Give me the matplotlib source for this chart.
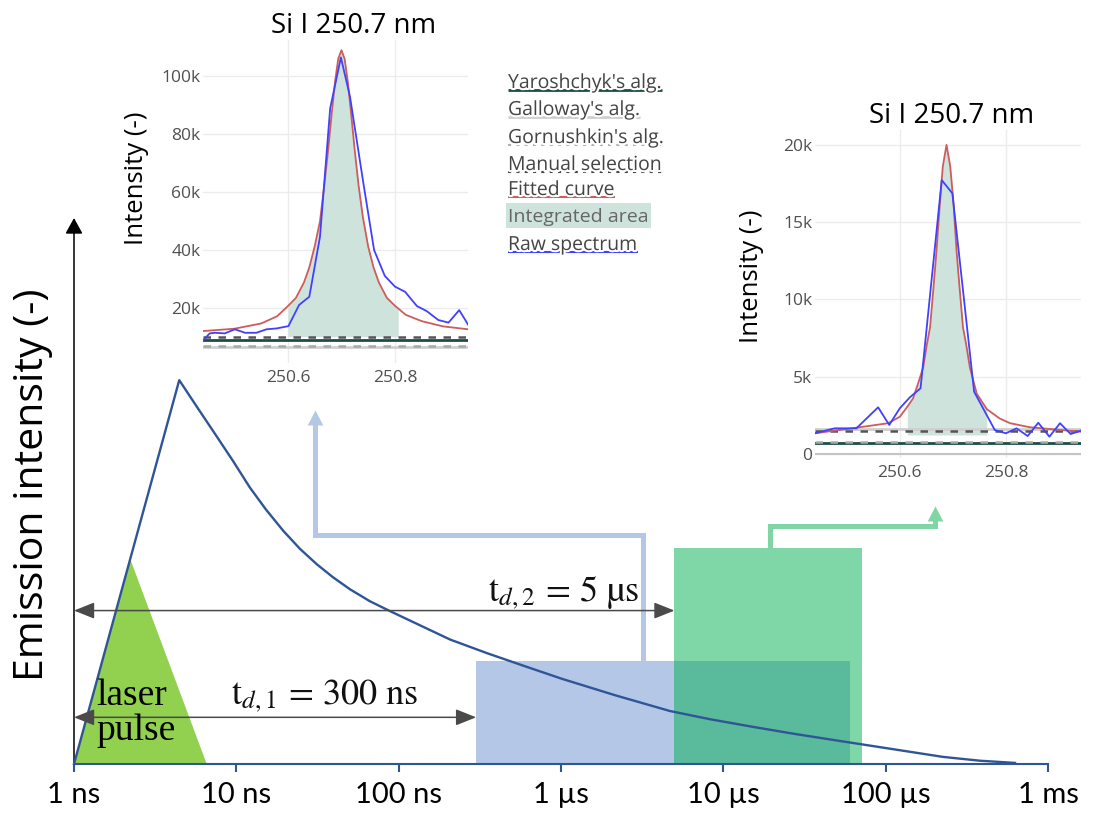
import matplotlib
matplotlib.use("Agg")
import matplotlib.pyplot as plt
from matplotlib.lines import Line2D
from matplotlib.patches import Rectangle
from matplotlib.ticker import FixedLocator, FuncFormatter, NullLocator
import matplotlib.patheffects as pe

plt.rcParams['font.family'] = ['Open Sans', 'DejaVu Sans']
plt.rcParams['mathtext.fontset'] = 'stix'

W, H = 1094, 819

# emission decay of the plasma (time in s, normalised intensity)
decay_t = [1e-9, 4.45e-9, 5.81e-9, 7.57e-9, 9.54e-9, 1.214e-8, 1.523e-8, 1.947e-8,
           2.467e-8, 3.126e-8, 3.940e-8, 5.014e-8, 6.659e-8, 8.846e-8, 1.354e-7,
           2.072e-7, 3.501e-7, 6.002e-7, 1.014e-6, 2.151e-6, 4.694e-6, 8.275e-6,
           1.523e-5, 2.765e-5, 5.016e-5, 1.064e-4, 2.256e-4, 3.813e-4, 6.264e-4]
decay_i = [0, 0.703, 0.651, 0.600, 0.555, 0.506, 0.466, 0.427,
           0.394, 0.366, 0.342, 0.320, 0.298, 0.280, 0.254,
           0.228, 0.203, 0.179, 0.156, 0.126, 0.097, 0.082,
           0.068, 0.055, 0.043, 0.028, 0.013, 0.006, 0.002]

# laser pulse
pulse_t = [1e-9, 2.21e-9, 6.57e-9]
pulse_i = [0, 0.377, 0]

# detector gates
delays = [300e-9, 5e-6]
gate_ends = [6.0e-5, 7.15e-5]
gate_heights = [0.189, 0.395]
delay_labels = [r'$\mathrm{t}_{d,1}\,=\,300\ \mathrm{ns}$',
                r'$\mathrm{t}_{d,2}\,=\,5\ \mathrm{µs}$']

time_ticks = [1e-9, 1e-8, 1e-7, 1e-6, 1e-5, 1e-4, 1e-3]
time_labels = ['1 ns', '10 ns', '100 ns', '1 µs', '10 µs', '100 µs', '1 ms']

# Si I 250.7 nm, gate 1
raw1_x = [250.442, 250.454, 250.464, 250.482, 250.501, 250.520, 250.541, 250.560, 250.579,
          250.601, 250.621, 250.640, 250.660, 250.679, 250.699, 250.716, 250.741, 250.761,
          250.781, 250.800, 250.819, 250.841, 250.859, 250.881, 250.900, 250.920, 250.937]
raw1_y = [9100, 11400, 11600, 11400, 12800, 11600, 11600, 12800, 13100,
          13900, 21200, 24000, 44700, 88900, 106400, 92900, 63100, 40100,
          31200, 27500, 25700, 20800, 19100, 16000, 15100, 19400, 14300]
fit1_x = [250.442, 250.500, 250.550, 250.580, 250.600, 250.615, 250.630, 250.640, 250.650,
          250.660, 250.668, 250.675, 250.682, 250.688, 250.694, 250.700, 250.706, 250.712,
          250.718, 250.725, 250.732, 250.740, 250.750, 250.760, 250.770, 250.785, 250.800,
          250.806, 250.820, 250.850, 250.890, 250.937]
fit1_y = [12200, 13000, 14800, 17300, 20800, 23600, 28900, 34100, 41300,
          50000, 62400, 74200, 87300, 97900, 105900, 108900, 105900, 97900,
          87300, 74200, 62400, 51500, 41300, 34100, 28900, 23600, 20900,
          20000, 17800, 15600, 13800, 12800]
area1 = (250.600, 250.806)
floor1 = 10260

# Si I 250.7 nm, gate 2
raw2_x = [250.440, 250.477, 250.518, 250.559, 250.580, 250.600, 250.619, 250.639, 250.679,
          250.699, 250.740, 250.779, 250.800, 250.820, 250.841, 250.861, 250.882, 250.902,
          250.922, 250.941]
raw2_y = [1340, 1660, 1660, 3020, 1880, 2960, 3670, 4250, 17720,
          16860, 4030, 1550, 1340, 1660, 1160, 2020, 1120, 1990,
          1290, 1510]
fit2_x = [250.440, 250.518, 250.578, 250.600, 250.614, 250.625, 250.636, 250.644, 250.651,
          250.657, 250.663, 250.669, 250.675, 250.681, 250.688, 250.695, 250.701, 250.707,
          250.713, 250.719, 250.725, 250.732, 250.745, 250.764, 250.788, 250.808, 250.845,
          250.941]
fit2_y = [1340, 1700, 1990, 2410, 3050, 3600, 4730, 5600, 7090,
          8200, 10600, 13100, 16000, 18600, 20000, 18600, 16300, 13100,
          10600, 8200, 7100, 5600, 3900, 2900, 2300, 1990, 1730,
          1440]
area2 = (250.614, 250.764)
floor2 = 1230

# background levels from the baseline algorithms
base_names = ["Yaroshchyk's alg.", "Galloway's alg.", "Gornushkin's alg.", "Manual selection"]
base1 = [9120, 6600, 7160, 10050]
base2 = [710, 1600, 800, 1510]

legend_names = base_names + ["Fitted curve", "Integrated area", "Raw spectrum"]

teal = '#1d4d46'
light_grey = '#cfcfcf'
dash_grey = '#a8a8a8'
dark_grey = '#555555'
red = '#cd5c5c'
blue = '#4040ff'
area_col = '#cfe3dd'
base_styles = [dict(color=teal, lw=2.0, ls='-'),
               dict(color=light_grey, lw=2.0, ls='-'),
               dict(color=dash_grey, lw=1.8, ls=(0, (3, 3))),
               dict(color=dark_grey, lw=1.8, ls=(0, (3, 3)))]

fig = plt.figure(figsize=(W / 100, H / 100), dpi=100)

# ---- main timing diagram ----
ax = fig.add_axes([74 / W, 1 - 764 / H, 974 / W, 546 / H])
ax.set_xscale('log')
ax.set_xlim(1e-9, 1e-3)
ax.set_ylim(0, 1)
for s in ['top', 'right', 'left']:
    ax.spines[s].set_visible(False)
ax.spines['bottom'].set_color('#2f5597')
ax.spines['bottom'].set_linewidth(1.5)
ax.xaxis.set_major_locator(FixedLocator(time_ticks))
ax.xaxis.set_minor_locator(NullLocator())
ax.set_xticklabels(time_labels, family=['Lato', 'DejaVu Sans'], fontsize=21)
ax.tick_params(axis='x', length=6, width=1.5, color='#2f5597', pad=7)
ax.set_yticks([])
ax.patch.set_alpha(0)

ax.annotate('', xy=(1e-9, 1.0), xytext=(1e-9, 0), annotation_clip=False,
            arrowprops=dict(arrowstyle='-|>,head_length=0.4,head_width=0.22',
                            color='black', lw=1.1, mutation_scale=24,
                            shrinkA=0, shrinkB=0))
fig.text(33 / W, 1 - 485 / H, 'Emission intensity (-)', rotation=90,
         ha='center', va='center', fontsize=29.5)

gate_colors = ['#b4c7e7', '#00b050']
gate_alpha = [1.0, 0.5]
for d, e, h, c, a in zip(delays, gate_ends, gate_heights, gate_colors, gate_alpha):
    ax.fill_between([d, e], 0, h, color=c, alpha=a, lw=0, zorder=1)

ax.fill(pulse_t, pulse_i, color='#92d050', lw=0, zorder=2)
ax.plot(decay_t, decay_i, color='#2f5597', lw=1.7, zorder=5, clip_on=False,
        solid_joinstyle='round')

# delay arrows and labels
arrow_y = [0.0855, 0.281]
label_pos = [(1.32e-7, 0.111), (3.03e-6, 0.2985)]
for d, y, lab, (lx, ly) in zip(delays, arrow_y, delay_labels, label_pos):
    ax.annotate('', xy=(d, y), xytext=(1e-9, y), annotation_clip=False,
                arrowprops=dict(arrowstyle='<|-|>,head_length=0.5,head_width=0.2',
                                color='#4a4a4a', lw=1.1, mutation_scale=25,
                                shrinkA=0, shrinkB=0), zorder=6)
    ax.text(lx, ly, lab, ha='right', va='baseline', fontsize=26, color='#111111', zorder=7)

ax.text(1.38e-9, 0.108, 'laser', family=['Liberation Serif', 'DejaVu Serif'],
        fontsize=27, va='baseline', ha='left', zorder=7)
ax.text(1.38e-9, 0.044, 'pulse', family=['Liberation Serif', 'DejaVu Serif'],
        fontsize=27, va='baseline', ha='left', zorder=7)

# connectors from the gates to the spectra
head = [(-0.52, -1), (0.52, -1), (0, 0)]
conn_blue_x = [3.2e-6, 3.2e-6, 3.05e-8, 3.05e-8]
conn_blue_y = [gate_heights[0], 0.419, 0.419, 0.625]
conn_green_x = [1.94e-5, 1.94e-5, 2.01e-4, 2.01e-4]
conn_green_y = [gate_heights[1], 0.435, 0.435, 0.448]
for cx, cy, tip, col in [(conn_blue_x, conn_blue_y, 0.648, '#b4c7e7'),
                         (conn_green_x, conn_green_y, 0.4725, '#7fd6a4')]:
    ax.plot(cx, cy, color=col, lw=3.6, solid_joinstyle='miter',
            solid_capstyle='butt', zorder=3, clip_on=False)
    ax.plot([cx[-1]], [tip], marker=head, ms=21.6, color=col, mew=0,
            zorder=3, clip_on=False)


# ---- spectra insets ----
def kfmt(v, p):
    return '0' if v == 0 else f'{v / 1000:.0f}k'


def draw_spectrum(rect, xlim, ylim, yticks, raw_x, raw_y, fit_x, fit_y, area, floor, bases):
    a = fig.add_axes(rect)
    a.set_xlim(*xlim)
    a.set_ylim(*ylim)
    for s in a.spines.values():
        s.set_visible(False)
    a.patch.set_alpha(0)
    a.set_xticks([250.6, 250.8])
    a.set_xticklabels(['250.6', '250.8'])
    a.set_yticks(yticks)
    a.yaxis.set_major_formatter(FuncFormatter(kfmt))
    a.grid(True, color='#ececec', lw=1)
    a.set_axisbelow(True)
    a.tick_params(length=0, labelsize=12.5, labelcolor='#505050')
    a.tick_params(axis='y', pad=2)
    a.tick_params(axis='x', pad=5)
    if ylim[0] < 0:
        a.axhline(0, color='#c4c4c4', lw=1.5, zorder=1)
    # integrated area under the fitted curve
    fx = [x for x in fit_x if area[0] <= x <= area[1]]
    fy = [y for x, y in zip(fit_x, fit_y) if area[0] <= x <= area[1]]
    a.fill_between(fx, floor, fy, color=area_col, lw=0, zorder=2)
    for lvl, st in zip(bases, base_styles):
        a.axhline(lvl, zorder=3, **st)
    a.plot(fit_x, fit_y, color=red, lw=1.3, zorder=4)
    a.plot(raw_x, raw_y, color=blue, lw=1.3, zorder=5)
    return a


draw_spectrum([203.3 / W, 1 - 363 / H, 265 / W, 323 / H], (250.442, 250.937), (1200, 112400),
              [20000, 40000, 60000, 80000, 100000],
              raw1_x, raw1_y, fit1_x, fit1_y, area1, floor1, base1)
draw_spectrum([815 / W, 1 - 458 / H, 265.7 / W, 328 / H], (250.440, 250.941), (-260, 20960),
              [0, 5000, 10000, 15000, 20000],
              raw2_x, raw2_y, fit2_x, fit2_y, area2, floor2, base2)

for (tx, ty), (lx, ly) in [((354, 33), (136.7, 178.3)), ((952, 123.3), (751.7, 276.7))]:
    fig.text(tx / W, 1 - ty / H, 'Si I 250.7 nm', ha='center', va='baseline', fontsize=20)
    fig.text(lx / W, 1 - ly / H, 'Intensity (-)', rotation=90, ha='center', va='center',
             fontsize=18.5)

# ---- legend ----
leg_x = 508
leg_base = [88, 115, 143, 170, 195, 221.7, 250]
leg_styles = [dict(color=teal, lw=2.0, ls='-'),
              dict(color=light_grey, lw=2.0, ls='-'),
              dict(color='#b0b0b0', lw=1.5, ls=(0, (1.5, 2.5))),
              dict(color='#444444', lw=1.5, ls=(0, (1.5, 2.5))),
              dict(color=red, lw=1.5, ls='-'),
              None,
              dict(color=blue, lw=1.5, ls='-')]
leg_texts = []
for name, yb in zip(legend_names, leg_base):
    boxed = name == 'Integrated area'
    t = fig.text(leg_x / W, 1 - yb / H, name, ha='left', va='baseline', fontsize=14,
                 color='#666666' if boxed else '#444444', zorder=5,
                 path_effects=None if boxed else
                 [pe.withStroke(linewidth=3, foreground='white')])
    leg_texts.append(t)

fig.canvas.draw()
renderer = fig.canvas.get_renderer()
for t, yb, st in zip(leg_texts, leg_base, leg_styles):
    bb = t.get_window_extent(renderer)
    if st is None:
        fig.patches.append(Rectangle((bb.x0 - 2, H - 228), bb.width + 4, 25,
                                     transform=None, color=area_col, lw=0, zorder=1))
        continue
    yy = H - (yb + 2)
    fig.lines.append(Line2D([bb.x0, bb.x1], [yy, yy], transform=None, zorder=2,
                            solid_capstyle='butt', **st))

fig.savefig('out.png', dpi=100)
